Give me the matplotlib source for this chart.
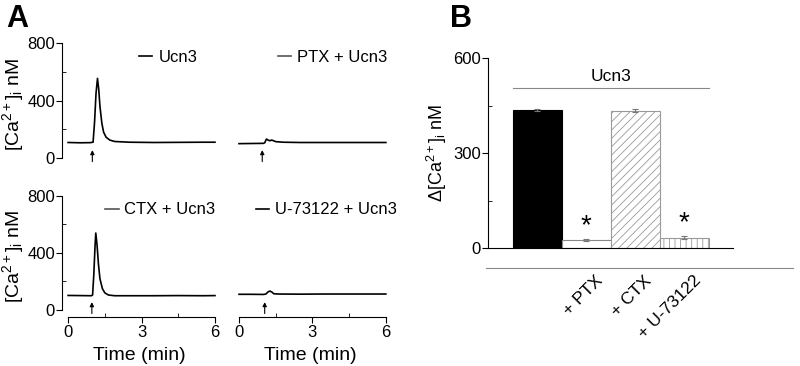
import numpy as np
import matplotlib.pyplot as plt
from matplotlib.lines import Line2D
from matplotlib.ticker import MultipleLocator
import matplotlib.transforms as mtransforms

plt.rcParams['font.family'] = ['Liberation Sans', 'DejaVu Sans']
plt.rcParams['mathtext.fontset'] = 'custom'
plt.rcParams['mathtext.rm'] = 'Liberation Sans'
plt.rcParams['mathtext.it'] = 'Liberation Sans:italic'
plt.rcParams['mathtext.bf'] = 'Liberation Sans:bold'
plt.rcParams['hatch.linewidth'] = 0.6

# ---- panel A traces (time in min, [Ca2+]i in nM)
ucn3_t = [0, 0.5, 0.9, 1.02, 1.08, 1.14, 1.2, 1.25, 1.3, 1.38, 1.45, 1.55, 1.7, 1.9, 2.5, 3.5, 4.5, 5.5, 6]
ucn3_v = [108, 106, 107, 110, 250, 450, 554, 480, 360, 240, 180, 145, 125, 115, 110, 108, 109, 110, 110]

ptx_t = [0, 0.5, 1.0, 1.05, 1.12, 1.2, 1.26, 1.34, 1.5, 1.8, 2.5, 3.5, 4.5, 5.5, 6]
ptx_v = [100, 101, 102, 106, 132, 124, 120, 125, 114, 110, 108, 108, 108, 108, 108]

ctx_t = [0, 0.5, 0.95, 1.0, 1.05, 1.1, 1.13, 1.18, 1.24, 1.3, 1.4, 1.5, 1.65, 1.9, 2.5, 3.5, 4.5, 5.5, 6]
ctx_v = [102, 101, 100, 105, 250, 450, 540, 460, 320, 220, 150, 120, 105, 100, 100, 100, 101, 100, 101]

u73_t = [0, 0.5, 1.0, 1.1, 1.18, 1.26, 1.34, 1.42, 1.6, 2.5, 3.5, 4.5, 5.5, 6]
u73_v = [110, 110, 109, 112, 126, 133, 126, 114, 112, 111, 112, 112, 112, 112]

trace_labels = ['Ucn3', 'PTX + Ucn3', 'CTX + Ucn3', 'U-73122 + Ucn3']
legend_colors = ['black', '#555555', '#555555', 'black']
arrow_times = [0.99, 0.95, 0.97, 1.05]

# ---- panel B
bar_labels = ['', '+ PTX', '+ CTX', '+ U-73122']
bar_values = [436, 25, 434, 32]
bar_errors = [4, 3, 4, 5]
significant = [False, True, False, True]

fig = plt.figure(figsize=(8, 3.66), dpi=100)

w = 0.19275
h_top = 0.3339
h_bot = 0.3309
ax_tl = fig.add_axes([0.0775, 0.5486, w, h_top])
ax_tr = fig.add_axes([0.2911, 0.5486, w, h_top])
ax_bl = fig.add_axes([0.0775, 0.1336, w, h_bot])
ax_br = fig.add_axes([0.2911, 0.1336, w, h_bot])

traces = [(ucn3_t, ucn3_v), (ptx_t, ptx_v), (ctx_t, ctx_v), (u73_t, u73_v)]
axes_a = [ax_tl, ax_tr, ax_bl, ax_br]
legend_x = [0.5, 0.29, 0.28, 0.15]

ylab = r'[Ca$^{2+}$]$_{\rm i}$ nM'

for i, ax in enumerate(axes_a):
    t, v = traces[i]
    ax.plot(t, v, color='black', lw=1.2)
    ax.set_xlim(-0.25, 6.05)
    ax.set_ylim(-50, 800)
    for s in ['top', 'right']:
        ax.spines[s].set_visible(False)
    # stimulus arrow
    ax.annotate('', xy=(arrow_times[i], 55), xytext=(arrow_times[i], -25),
                arrowprops=dict(arrowstyle='-|>', color='black', lw=0.8,
                                mutation_scale=6, shrinkA=0, shrinkB=0))
    h = Line2D([], [], color=legend_colors[i], lw=1.2)
    ax.legend([h], [trace_labels[i]], loc='center left',
              bbox_to_anchor=(legend_x[i], 0.885), frameon=False,
              handlelength=0.8, handletextpad=0.35, borderpad=0,
              borderaxespad=0, fontsize=12)

    left = i in (0, 2)
    bottom = i in (2, 3)
    if left:
        ax.spines['left'].set_bounds(0, 800)
        ax.set_yticks([0, 400, 800])
        ax.yaxis.set_minor_locator(MultipleLocator(200))
        ax.tick_params(axis='y', which='major', direction='out', length=4, labelsize=12, pad=1)
        ax.tick_params(axis='y', which='minor', direction='in', length=3)
        ax.set_ylabel(ylab, fontsize=14, labelpad=1)
    else:
        ax.spines['left'].set_visible(False)
        ax.set_yticks([])
        ax.yaxis.set_minor_locator(plt.NullLocator())
    if bottom:
        ax.spines['bottom'].set_bounds(0, 6)
        ax.set_xticks([0, 3, 6])
        ax.xaxis.set_minor_locator(MultipleLocator(1.5))
        ax.tick_params(axis='x', which='major', direction='out', length=4, labelsize=12, pad=2)
        ax.tick_params(axis='x', which='minor', direction='in', length=3)
        ax.set_xlabel('Time (min)', fontsize=14, labelpad=5)
    else:
        ax.spines['bottom'].set_visible(False)
        ax.set_xticks([])
        ax.xaxis.set_minor_locator(plt.NullLocator())

# ---- panel B bar chart
axb = fig.add_axes([0.61, 0.3224, 0.30625, 0.5191])
x = np.arange(len(bar_values))
axb.bar(x[0], bar_values[0], width=1, color='black', edgecolor='black', lw=0.8)
axb.bar(x[1], bar_values[1], width=1, color='white', edgecolor='#888888', lw=0.8)
axb.bar(x[2], bar_values[2], width=1, color='white', edgecolor='#999999', lw=0.8, hatch='////')
axb.bar(x[3], bar_values[3], width=1, color='white', edgecolor='#999999', lw=0.8, hatch='|||')
axb.errorbar(x, bar_values, yerr=bar_errors, fmt='none', ecolor='#777777',
             capsize=2, elinewidth=0.8, capthick=0.8)
for xi, val, err, sig in zip(x, bar_values, bar_errors, significant):
    if sig:
        axb.text(xi, val + err + 42, '*', ha='center', va='center', fontsize=20)

# Ucn3 bracket over all bars
axb.plot([x[0] - 0.5, x[-1] + 0.5], [505, 505], color='#888888', lw=0.8)
axb.text((x[0] + x[-1]) / 2, 518, 'Ucn3', ha='center', va='bottom', fontsize=12.5)

axb.set_xlim(-1, 4)
axb.set_ylim(0, 600)
for s in ['top', 'right']:
    axb.spines[s].set_visible(False)
axb.set_yticks([0, 300, 600])
axb.yaxis.set_minor_locator(MultipleLocator(150))
axb.tick_params(axis='y', which='major', direction='out', length=4, labelsize=12, pad=1)
axb.tick_params(axis='y', which='minor', direction='in', length=3)
axb.set_ylabel(r'$\Delta$[Ca$^{2+}$]$_{\rm i}$ nM', fontsize=13, labelpad=3)

axb.set_xticks(x[1:])
axb.set_xticklabels(bar_labels[1:], rotation=45, ha='right', va='top',
                    rotation_mode='anchor', fontsize=12.5)
axb.tick_params(axis='x', length=0, pad=18)
offset = mtransforms.ScaledTranslation(9 / 100, 0, fig.dpi_scale_trans)
for lab in axb.get_xticklabels():
    lab.set_transform(lab.get_transform() + offset)

# separator line under panel B
fig.add_artist(Line2D([0.6075, 0.991], [0.2678, 0.2678], color='#888888', lw=0.8))

fig.text(0.008, 0.99, 'A', fontsize=22, fontweight='bold', va='top', ha='left')
fig.text(0.563, 0.99, 'B', fontsize=22, fontweight='bold', va='top', ha='left')

fig.savefig('out.png', dpi=100)
